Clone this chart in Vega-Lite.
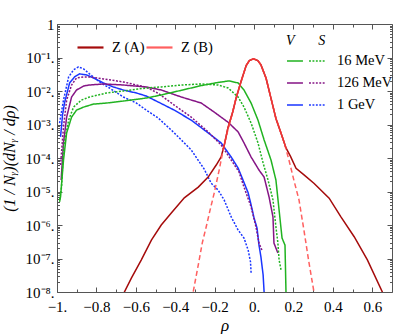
{
  "$schema": "https://vega.github.io/schema/vega-lite/v6.json",
  "autosize": {"type": "none"},
  "width": 335,
  "height": 268,
  "padding": {"left": 57, "top": 24, "right": 23, "bottom": 42},
  "background": "white",
  "config": {
    "view": {"stroke": null},
    "axis": {"grid": false, "domainColor": "#555", "tickColor": "#555", "labelColor": "#000", "labelFont": "Liberation Serif", "labelFontSize": 15, "titleColor": "#000", "titleFont": "Liberation Serif", "titleFontWeight": "normal", "titleFontStyle": "italic", "labelOverlap": false, "labelFlush": false, "domainWidth": 1, "tickWidth": 1}
  },
  "datasets": {
    "energy": [
      {"e": "1 GeV", "k": "S", "x": -0.987, "y": 1.10e-3},
      {"e": "1 GeV", "k": "S", "x": -0.967, "y": 5.37e-3},
      {"e": "1 GeV", "k": "S", "x": -0.941, "y": 2.63e-2},
      {"e": "1 GeV", "k": "S", "x": -0.916, "y": 4.27e-2},
      {"e": "1 GeV", "k": "S", "x": -0.891, "y": 5.25e-2},
      {"e": "1 GeV", "k": "S", "x": -0.865, "y": 4.57e-2},
      {"e": "1 GeV", "k": "S", "x": -0.835, "y": 3.24e-2},
      {"e": "1 GeV", "k": "S", "x": -0.784, "y": 1.86e-2},
      {"e": "1 GeV", "k": "S", "x": -0.734, "y": 1.23e-2},
      {"e": "1 GeV", "k": "S", "x": -0.663, "y": 6.61e-3},
      {"e": "1 GeV", "k": "S", "x": -0.597, "y": 4.37e-3},
      {"e": "1 GeV", "k": "S", "x": -0.547, "y": 2.69e-3},
      {"e": "1 GeV", "k": "S", "x": -0.486, "y": 1.55e-3},
      {"e": "1 GeV", "k": "S", "x": -0.405, "y": 5.62e-4},
      {"e": "1 GeV", "k": "S", "x": -0.319, "y": 1.74e-4},
      {"e": "1 GeV", "k": "S", "x": -0.253, "y": 4.68e-5},
      {"e": "1 GeV", "k": "S", "x": -0.218, "y": 1.78e-5},
      {"e": "1 GeV", "k": "S", "x": -0.182, "y": 1.10e-5},
      {"e": "1 GeV", "k": "S", "x": -0.152, "y": 5.62e-6},
      {"e": "1 GeV", "k": "S", "x": -0.116, "y": 1.74e-6},
      {"e": "1 GeV", "k": "S", "x": -0.081, "y": 7.08e-7},
      {"e": "1 GeV", "k": "S", "x": -0.051, "y": 4.07e-7},
      {"e": "1 GeV", "k": "S", "x": -0.030, "y": 1.78e-7},
      {"e": "1 GeV", "k": "S", "x": -0.018, "y": 7.94e-8},
      {"e": "1 GeV", "k": "S", "x": -0.015, "y": 3.72e-8},
      {"e": "1 GeV", "k": "V", "x": -0.982, "y": 4.27e-4},
      {"e": "1 GeV", "k": "V", "x": -0.972, "y": 1.91e-3},
      {"e": "1 GeV", "k": "V", "x": -0.962, "y": 4.37e-3},
      {"e": "1 GeV", "k": "V", "x": -0.936, "y": 1.74e-2},
      {"e": "1 GeV", "k": "V", "x": -0.911, "y": 2.63e-2},
      {"e": "1 GeV", "k": "V", "x": -0.886, "y": 3.24e-2},
      {"e": "1 GeV", "k": "V", "x": -0.850, "y": 3.02e-2},
      {"e": "1 GeV", "k": "V", "x": -0.815, "y": 2.45e-2},
      {"e": "1 GeV", "k": "V", "x": -0.764, "y": 1.74e-2},
      {"e": "1 GeV", "k": "V", "x": -0.714, "y": 1.32e-2},
      {"e": "1 GeV", "k": "V", "x": -0.663, "y": 1.07e-2},
      {"e": "1 GeV", "k": "V", "x": -0.597, "y": 8.71e-3},
      {"e": "1 GeV", "k": "V", "x": -0.547, "y": 7.08e-3},
      {"e": "1 GeV", "k": "V", "x": -0.486, "y": 4.68e-3},
      {"e": "1 GeV", "k": "V", "x": -0.405, "y": 2.69e-3},
      {"e": "1 GeV", "k": "V", "x": -0.319, "y": 1.35e-3},
      {"e": "1 GeV", "k": "V", "x": -0.233, "y": 5.62e-4},
      {"e": "1 GeV", "k": "V", "x": -0.167, "y": 2.82e-4},
      {"e": "1 GeV", "k": "V", "x": -0.116, "y": 1.07e-4},
      {"e": "1 GeV", "k": "V", "x": -0.081, "y": 5.01e-5},
      {"e": "1 GeV", "k": "V", "x": -0.056, "y": 2.19e-5},
      {"e": "1 GeV", "k": "V", "x": -0.030, "y": 9.12e-6},
      {"e": "1 GeV", "k": "V", "x": -0.015, "y": 3.98e-6},
      {"e": "1 GeV", "k": "V", "x": 0.000, "y": 1.62e-6},
      {"e": "1 GeV", "k": "V", "x": 0.015, "y": 8.13e-7},
      {"e": "1 GeV", "k": "V", "x": 0.025, "y": 2.51e-7},
      {"e": "1 GeV", "k": "V", "x": 0.035, "y": 1.10e-7},
      {"e": "1 GeV", "k": "V", "x": 0.046, "y": 3.24e-8},
      {"e": "1 GeV", "k": "V", "x": 0.051, "y": 1.0e-8},
      {"e": "1 GeV", "k": "V", "x": 0.053, "y": 5.0e-9},
      {"e": "126 MeV", "k": "V", "x": -0.979, "y": 2.19e-5},
      {"e": "126 MeV", "k": "V", "x": -0.967, "y": 2.82e-4},
      {"e": "126 MeV", "k": "V", "x": -0.951, "y": 1.66e-3},
      {"e": "126 MeV", "k": "V", "x": -0.926, "y": 6.61e-3},
      {"e": "126 MeV", "k": "V", "x": -0.901, "y": 1.07e-2},
      {"e": "126 MeV", "k": "V", "x": -0.865, "y": 1.41e-2},
      {"e": "126 MeV", "k": "V", "x": -0.835, "y": 1.51e-2},
      {"e": "126 MeV", "k": "V", "x": -0.764, "y": 1.62e-2},
      {"e": "126 MeV", "k": "V", "x": -0.663, "y": 1.51e-2},
      {"e": "126 MeV", "k": "V", "x": -0.547, "y": 1.32e-2},
      {"e": "126 MeV", "k": "V", "x": -0.471, "y": 1.07e-2},
      {"e": "126 MeV", "k": "V", "x": -0.369, "y": 6.61e-3},
      {"e": "126 MeV", "k": "V", "x": -0.268, "y": 4.37e-3},
      {"e": "126 MeV", "k": "V", "x": -0.202, "y": 2.34e-3},
      {"e": "126 MeV", "k": "V", "x": -0.132, "y": 1.17e-3},
      {"e": "126 MeV", "k": "V", "x": -0.081, "y": 6.03e-4},
      {"e": "126 MeV", "k": "V", "x": -0.051, "y": 2.82e-4},
      {"e": "126 MeV", "k": "V", "x": -0.015, "y": 1.07e-4},
      {"e": "126 MeV", "k": "V", "x": 0.025, "y": 4.37e-5},
      {"e": "126 MeV", "k": "V", "x": 0.051, "y": 2.69e-5},
      {"e": "126 MeV", "k": "V", "x": 0.076, "y": 6.92e-6},
      {"e": "126 MeV", "k": "V", "x": 0.096, "y": 1.74e-6},
      {"e": "126 MeV", "k": "V", "x": 0.101, "y": 2.88e-7},
      {"e": "126 MeV", "k": "V", "x": 0.121, "y": 1.45e-7},
      {"e": "126 MeV", "k": "S", "x": -0.982, "y": 6.17e-5},
      {"e": "126 MeV", "k": "S", "x": -0.967, "y": 8.51e-4},
      {"e": "126 MeV", "k": "S", "x": -0.951, "y": 5.37e-3},
      {"e": "126 MeV", "k": "S", "x": -0.926, "y": 1.51e-2},
      {"e": "126 MeV", "k": "S", "x": -0.901, "y": 2.45e-2},
      {"e": "126 MeV", "k": "S", "x": -0.865, "y": 2.63e-2},
      {"e": "126 MeV", "k": "S", "x": -0.835, "y": 2.63e-2},
      {"e": "126 MeV", "k": "S", "x": -0.764, "y": 2.29e-2},
      {"e": "126 MeV", "k": "S", "x": -0.663, "y": 1.86e-2},
      {"e": "126 MeV", "k": "S", "x": -0.547, "y": 1.30e-2},
      {"e": "126 MeV", "k": "S", "x": -0.486, "y": 8.50e-3},
      {"e": "126 MeV", "k": "S", "x": -0.405, "y": 3.80e-3},
      {"e": "126 MeV", "k": "S", "x": -0.319, "y": 1.66e-3},
      {"e": "126 MeV", "k": "S", "x": -0.233, "y": 6.03e-4},
      {"e": "126 MeV", "k": "S", "x": -0.167, "y": 2.45e-4},
      {"e": "126 MeV", "k": "S", "x": -0.116, "y": 8.71e-5},
      {"e": "126 MeV", "k": "S", "x": -0.076, "y": 3.80e-5},
      {"e": "126 MeV", "k": "S", "x": -0.051, "y": 1.35e-5},
      {"e": "126 MeV", "k": "S", "x": -0.015, "y": 3.47e-6},
      {"e": "126 MeV", "k": "S", "x": 0.010, "y": 8.71e-7},
      {"e": "126 MeV", "k": "S", "x": 0.025, "y": 2.88e-7},
      {"e": "126 MeV", "k": "S", "x": 0.040, "y": 1.78e-7},
      {"e": "16 MeV", "k": "V", "x": -0.987, "y": 4.90e-6},
      {"e": "16 MeV", "k": "V", "x": -0.982, "y": 6.92e-6},
      {"e": "16 MeV", "k": "V", "x": -0.967, "y": 8.71e-5},
      {"e": "16 MeV", "k": "V", "x": -0.951, "y": 5.62e-4},
      {"e": "16 MeV", "k": "V", "x": -0.926, "y": 1.66e-3},
      {"e": "16 MeV", "k": "V", "x": -0.901, "y": 2.69e-3},
      {"e": "16 MeV", "k": "V", "x": -0.865, "y": 3.31e-3},
      {"e": "16 MeV", "k": "V", "x": -0.815, "y": 4.07e-3},
      {"e": "16 MeV", "k": "V", "x": -0.749, "y": 4.37e-3},
      {"e": "16 MeV", "k": "V", "x": -0.663, "y": 5.01e-3},
      {"e": "16 MeV", "k": "V", "x": -0.547, "y": 6.17e-3},
      {"e": "16 MeV", "k": "V", "x": -0.471, "y": 7.6e-3},
      {"e": "16 MeV", "k": "V", "x": -0.369, "y": 1.05e-2},
      {"e": "16 MeV", "k": "V", "x": -0.268, "y": 1.45e-2},
      {"e": "16 MeV", "k": "V", "x": -0.182, "y": 1.80e-2},
      {"e": "16 MeV", "k": "V", "x": -0.127, "y": 2.00e-2},
      {"e": "16 MeV", "k": "V", "x": -0.081, "y": 1.74e-2},
      {"e": "16 MeV", "k": "V", "x": -0.051, "y": 1.07e-2},
      {"e": "16 MeV", "k": "V", "x": -0.015, "y": 4.37e-3},
      {"e": "16 MeV", "k": "V", "x": 0.020, "y": 1.35e-3},
      {"e": "16 MeV", "k": "V", "x": 0.051, "y": 3.47e-4},
      {"e": "16 MeV", "k": "V", "x": 0.086, "y": 8.71e-5},
      {"e": "16 MeV", "k": "V", "x": 0.111, "y": 2.19e-5},
      {"e": "16 MeV", "k": "V", "x": 0.127, "y": 2.82e-6},
      {"e": "16 MeV", "k": "V", "x": 0.142, "y": 4.07e-7},
      {"e": "16 MeV", "k": "V", "x": 0.157, "y": 2.51e-7},
      {"e": "16 MeV", "k": "V", "x": 0.162, "y": 1.0e-8},
      {"e": "16 MeV", "k": "V", "x": 0.163, "y": 1.0e-9},
      {"e": "16 MeV", "k": "S", "x": -0.987, "y": 5.62e-6},
      {"e": "16 MeV", "k": "S", "x": -0.977, "y": 1.35e-5},
      {"e": "16 MeV", "k": "S", "x": -0.967, "y": 2.14e-4},
      {"e": "16 MeV", "k": "S", "x": -0.941, "y": 1.35e-3},
      {"e": "16 MeV", "k": "S", "x": -0.916, "y": 3.31e-3},
      {"e": "16 MeV", "k": "S", "x": -0.876, "y": 5.37e-3},
      {"e": "16 MeV", "k": "S", "x": -0.835, "y": 6.61e-3},
      {"e": "16 MeV", "k": "S", "x": -0.749, "y": 8.71e-3},
      {"e": "16 MeV", "k": "S", "x": -0.663, "y": 1.0e-2},
      {"e": "16 MeV", "k": "S", "x": -0.547, "y": 1.23e-2},
      {"e": "16 MeV", "k": "S", "x": -0.471, "y": 1.32e-2},
      {"e": "16 MeV", "k": "S", "x": -0.369, "y": 1.51e-2},
      {"e": "16 MeV", "k": "S", "x": -0.268, "y": 1.62e-2},
      {"e": "16 MeV", "k": "S", "x": -0.182, "y": 1.51e-2},
      {"e": "16 MeV", "k": "S", "x": -0.132, "y": 1.23e-2},
      {"e": "16 MeV", "k": "S", "x": -0.081, "y": 6.61e-3},
      {"e": "16 MeV", "k": "S", "x": -0.051, "y": 3.31e-3},
      {"e": "16 MeV", "k": "S", "x": -0.015, "y": 1.10e-3},
      {"e": "16 MeV", "k": "S", "x": 0.020, "y": 2.82e-4},
      {"e": "16 MeV", "k": "S", "x": 0.046, "y": 7.08e-5},
      {"e": "16 MeV", "k": "S", "x": 0.071, "y": 2.19e-5},
      {"e": "16 MeV", "k": "S", "x": 0.096, "y": 5.62e-6},
      {"e": "16 MeV", "k": "S", "x": 0.111, "y": 8.71e-7},
      {"e": "16 MeV", "k": "S", "x": 0.121, "y": 2.88e-7},
      {"e": "16 MeV", "k": "S", "x": 0.127, "y": 9.12e-8},
      {"e": "16 MeV", "k": "S", "x": 0.137, "y": 4.57e-8}
    ],
    "z": [
      {"s": "Z (A)", "x": -0.670, "y": 5.0e-9},
      {"s": "Z (A)", "x": -0.658, "y": 1.0e-8},
      {"s": "Z (A)", "x": -0.622, "y": 2.63e-8},
      {"s": "Z (A)", "x": -0.572, "y": 9.12e-8},
      {"s": "Z (A)", "x": -0.521, "y": 3.55e-7},
      {"s": "Z (A)", "x": -0.471, "y": 1.0e-6},
      {"s": "Z (A)", "x": -0.420, "y": 2.29e-6},
      {"s": "Z (A)", "x": -0.354, "y": 6.46e-6},
      {"s": "Z (A)", "x": -0.283, "y": 1.35e-5},
      {"s": "Z (A)", "x": -0.233, "y": 2.69e-5},
      {"s": "Z (A)", "x": -0.192, "y": 6.17e-5},
      {"s": "Z (A)", "x": -0.167, "y": 1.07e-4},
      {"s": "Z (A)", "x": -0.157, "y": 1.8e-4},
      {"s": "Z (A)", "x": -0.150, "y": 2.6e-4},
      {"s": "Z (A)", "x": -0.133, "y": 7.76e-4},
      {"s": "Z (A)", "x": -0.108, "y": 2.40e-3},
      {"s": "Z (A)", "x": -0.091, "y": 6.17e-3},
      {"s": "Z (A)", "x": -0.066, "y": 1.91e-2},
      {"s": "Z (A)", "x": -0.040, "y": 5.75e-2},
      {"s": "Z (A)", "x": -0.024, "y": 8.13e-2},
      {"s": "Z (A)", "x": -0.003, "y": 9.12e-2},
      {"s": "Z (A)", "x": 0.019, "y": 8.13e-2},
      {"s": "Z (A)", "x": 0.035, "y": 6.03e-2},
      {"s": "Z (A)", "x": 0.061, "y": 2.40e-2},
      {"s": "Z (A)", "x": 0.086, "y": 6.03e-3},
      {"s": "Z (A)", "x": 0.111, "y": 1.51e-3},
      {"s": "Z (A)", "x": 0.137, "y": 5.50e-4},
      {"s": "Z (A)", "x": 0.162, "y": 2.0e-4},
      {"s": "Z (A)", "x": 0.185, "y": 1.12e-4},
      {"s": "Z (A)", "x": 0.213, "y": 4.90e-5},
      {"s": "Z (A)", "x": 0.255, "y": 3.09e-5},
      {"s": "Z (A)", "x": 0.305, "y": 1.74e-5},
      {"s": "Z (A)", "x": 0.381, "y": 6.31e-6},
      {"s": "Z (A)", "x": 0.440, "y": 1.78e-6},
      {"s": "Z (A)", "x": 0.508, "y": 4.47e-7},
      {"s": "Z (A)", "x": 0.575, "y": 9.12e-8},
      {"s": "Z (A)", "x": 0.651, "y": 1.0e-8},
      {"s": "Z (A)", "x": 0.660, "y": 5.0e-9},
      {"s": "Z (B)", "x": -0.315, "y": 6.0e-9},
      {"s": "Z (B)", "x": -0.309, "y": 1.0e-8},
      {"s": "Z (B)", "x": -0.283, "y": 6.46e-8},
      {"s": "Z (B)", "x": -0.263, "y": 2.88e-7},
      {"s": "Z (B)", "x": -0.243, "y": 8.71e-7},
      {"s": "Z (B)", "x": -0.223, "y": 2.82e-6},
      {"s": "Z (B)", "x": -0.202, "y": 9.12e-6},
      {"s": "Z (B)", "x": -0.177, "y": 4.37e-5},
      {"s": "Z (B)", "x": -0.162, "y": 1.23e-4},
      {"s": "Z (B)", "x": -0.142, "y": 4.27e-4},
      {"s": "Z (B)", "x": -0.108, "y": 2.40e-3},
      {"s": "Z (B)", "x": -0.091, "y": 6.17e-3},
      {"s": "Z (B)", "x": -0.066, "y": 1.91e-2},
      {"s": "Z (B)", "x": -0.040, "y": 5.75e-2},
      {"s": "Z (B)", "x": -0.024, "y": 8.13e-2},
      {"s": "Z (B)", "x": -0.003, "y": 9.12e-2},
      {"s": "Z (B)", "x": 0.019, "y": 8.13e-2},
      {"s": "Z (B)", "x": 0.035, "y": 6.03e-2},
      {"s": "Z (B)", "x": 0.061, "y": 2.40e-2},
      {"s": "Z (B)", "x": 0.086, "y": 6.03e-3},
      {"s": "Z (B)", "x": 0.111, "y": 1.51e-3},
      {"s": "Z (B)", "x": 0.137, "y": 5.50e-4},
      {"s": "Z (B)", "x": 0.152, "y": 3.0e-4},
      {"s": "Z (B)", "x": 0.177, "y": 8.71e-5},
      {"s": "Z (B)", "x": 0.202, "y": 2.19e-5},
      {"s": "Z (B)", "x": 0.228, "y": 5.62e-6},
      {"s": "Z (B)", "x": 0.253, "y": 7.08e-7},
      {"s": "Z (B)", "x": 0.278, "y": 7.94e-8},
      {"s": "Z (B)", "x": 0.304, "y": 1.0e-8},
      {"s": "Z (B)", "x": 0.310, "y": 6.0e-9}
    ],
    "peak": [
      {"x": -0.157, "y": 1.8e-4},
      {"x": -0.150, "y": 2.6e-4},
      {"x": -0.133, "y": 7.76e-4},
      {"x": -0.108, "y": 2.40e-3},
      {"x": -0.091, "y": 6.17e-3},
      {"x": -0.066, "y": 1.91e-2},
      {"x": -0.040, "y": 5.75e-2},
      {"x": -0.024, "y": 8.13e-2},
      {"x": -0.003, "y": 9.12e-2},
      {"x": 0.019, "y": 8.13e-2},
      {"x": 0.035, "y": 6.03e-2},
      {"x": 0.061, "y": 2.40e-2},
      {"x": 0.086, "y": 6.03e-3},
      {"x": 0.111, "y": 1.51e-3},
      {"x": 0.137, "y": 5.50e-4},
      {"x": 0.162, "y": 2.0e-4}
    ]
  },
  "layer": [
    {
      "data": {"name": "energy"},
      "mark": {"type": "line", "strokeWidth": 1.5, "clip": true},
      "encoding": {
        "x": {"field": "x", "type": "quantitative", "scale": {"domain": [-1, 0.7], "nice": false, "zero": false},
          "axis": {"orient": "bottom", "values": [-1, -0.8, -0.6, -0.4, -0.2, 0, 0.2, 0.4, 0.6], "labelExpr": "datum.value <= -0.99 ? '−1.' : abs(datum.value) < 0.001 ? '0.' : format(datum.value, '.1f')", "tickSize": -5, "labelPadding": 12, "title": "ρ", "titleFontSize": 17, "titlePadding": 3}},
        "y": {"field": "y", "type": "quantitative", "scale": {"type": "log", "domain": [1e-8, 1], "nice": false},
          "axis": {"orient": "left", "values": [1e-8, 1e-7, 1e-6, 1e-5, 1e-4, 1e-3, 1e-2, 1e-1, 1], "labelExpr": "datum.value >= 0.99 ? '1' : '10' + ['⁻⁸','⁻⁷','⁻⁶','⁻⁵','⁻⁴','⁻³','⁻²','⁻¹'][round(log(datum.value) / LN10) + 8] + '.'", "tickSize": -5, "labelPadding": 8, "title": "(1 / Nᵧ)(dNᵧ / dρ)", "titleFontSize": 16, "titlePadding": 8}},
        "color": {"field": "e", "type": "nominal", "scale": {"domain": ["16 MeV", "126 MeV", "1 GeV"], "range": ["#21b321", "#851585", "#1a36ff"]},
          "legend": {"orient": "none", "legendX": 229, "legendY": 10, "direction": "vertical", "title": "V\u2003\u2002\u2009S", "titleFont": "Liberation Serif", "titleFontStyle": "italic", "titleFontWeight": "normal", "titleFontSize": 14, "titleColor": "#000", "titlePadding": 2, "symbolType": "M-1,0H-0.16M0.16,0H0.26M0.34,0H0.44M0.52,0H0.62M0.70,0H0.80M0.88,0H0.98", "symbolSize": 1444, "symbolStrokeWidth": 1.6, "clipHeight": 22, "rowPadding": 0, "labelOffset": 11, "labelFont": "Liberation Serif", "labelFontSize": 14.5, "labelColor": "#000", "padding": 0}},
        "strokeDash": {"field": "k", "type": "nominal", "scale": {"domain": ["V", "S"], "range": [[1, 0], [2, 1.5]]}, "legend": null}
      }
    },
    {
      "data": {"name": "z"},
      "transform": [{"filter": "datum.s === 'Z (A)'"}],
      "mark": {"type": "line", "strokeWidth": 1.5, "clip": true},
      "encoding": {
        "x": {"field": "x", "type": "quantitative", "axis": {"orient": "top", "values": [-1, -0.8, -0.6, -0.4, -0.2, 0, 0.2, 0.4, 0.6], "labels": false, "tickSize": -5, "title": null}},
        "y": {"field": "y", "type": "quantitative", "axis": {"orient": "right", "values": [1e-8, 1e-7, 1e-6, 1e-5, 1e-4, 1e-3, 1e-2, 1e-1, 1], "labels": false, "tickSize": -5, "title": null}},
        "color": {"field": "s", "type": "nominal", "scale": {"domain": ["Z (A)", "Z (B)"], "range": ["#a50b0b", "#ff5f5f"]},
          "legend": {"orient": "none", "legendX": 19, "legendY": 9, "direction": "horizontal", "title": null, "values": ["Z (A)", "Z (B)"], "symbolType": "stroke", "symbolSize": 676, "symbolStrokeWidth": 2.2, "labelFont": "Liberation Serif", "labelFontSize": 14.5, "labelColor": "#000", "labelOffset": 7, "columnPadding": -15, "padding": 0}}
      }
    },
    {
      "data": {"name": "z"},
      "transform": [{"filter": "datum.s === 'Z (B)'"}],
      "mark": {"type": "line", "strokeWidth": 1.5, "color": "#ff5f5f", "strokeDash": [5, 3], "clip": true},
      "encoding": {
        "x": {"field": "x", "type": "quantitative", "axis": null},
        "y": {"field": "y", "type": "quantitative", "axis": null}
      }
    },
    {
      "data": {"name": "peak"},
      "mark": {"type": "line", "strokeWidth": 1.5, "color": "#ee3535", "clip": true},
      "encoding": {
        "x": {"field": "x", "type": "quantitative", "axis": {"orient": "bottom", "values": [-0.9, -0.7, -0.5, -0.3, -0.1, 0.1, 0.3, 0.5], "labels": false, "domain": false, "tickSize": -3, "title": null}},
        "y": {"field": "y", "type": "quantitative", "axis": {"orient": "left", "values": [2e-8, 3e-8, 4e-8, 5e-8, 6e-8, 7e-8, 8e-8, 9e-8, 2e-7, 3e-7, 4e-7, 5e-7, 6e-7, 7e-7, 8e-7, 9e-7, 2e-6, 3e-6, 4e-6, 5e-6, 6e-6, 7e-6, 8e-6, 9e-6, 2e-5, 3e-5, 4e-5, 5e-5, 6e-5, 7e-5, 8e-5, 9e-5, 2e-4, 3e-4, 4e-4, 5e-4, 6e-4, 7e-4, 8e-4, 9e-4, 2e-3, 3e-3, 4e-3, 5e-3, 6e-3, 7e-3, 8e-3, 9e-3, 0.02, 0.03, 0.04, 0.05, 0.06, 0.07, 0.08, 0.09, 0.2, 0.3, 0.4, 0.5, 0.6, 0.7, 0.8, 0.9], "labels": false, "domain": false, "tickSize": -2.5, "title": null}}
      }
    },
    {
      "data": {"name": "peak"},
      "mark": {"type": "line", "strokeWidth": 1.5, "color": "#ee3535", "opacity": 0, "clip": true},
      "encoding": {
        "x": {"field": "x", "type": "quantitative", "axis": {"orient": "top", "values": [-0.9, -0.7, -0.5, -0.3, -0.1, 0.1, 0.3, 0.5], "labels": false, "domain": false, "tickSize": -3, "title": null}},
        "y": {"field": "y", "type": "quantitative", "axis": {"orient": "right", "values": [2e-8, 3e-8, 4e-8, 5e-8, 6e-8, 7e-8, 8e-8, 9e-8, 2e-7, 3e-7, 4e-7, 5e-7, 6e-7, 7e-7, 8e-7, 9e-7, 2e-6, 3e-6, 4e-6, 5e-6, 6e-6, 7e-6, 8e-6, 9e-6, 2e-5, 3e-5, 4e-5, 5e-5, 6e-5, 7e-5, 8e-5, 9e-5, 2e-4, 3e-4, 4e-4, 5e-4, 6e-4, 7e-4, 8e-4, 9e-4, 2e-3, 3e-3, 4e-3, 5e-3, 6e-3, 7e-3, 8e-3, 9e-3, 0.02, 0.03, 0.04, 0.05, 0.06, 0.07, 0.08, 0.09, 0.2, 0.3, 0.4, 0.5, 0.6, 0.7, 0.8, 0.9], "labels": false, "domain": false, "tickSize": -2.5, "title": null}}
      }
    }
  ],
  "resolve": {
    "scale": {"color": "independent", "strokeDash": "independent"},
    "legend": {"color": "independent", "strokeDash": "independent"},
    "axis": {"x": "independent", "y": "independent"}
  }
}
